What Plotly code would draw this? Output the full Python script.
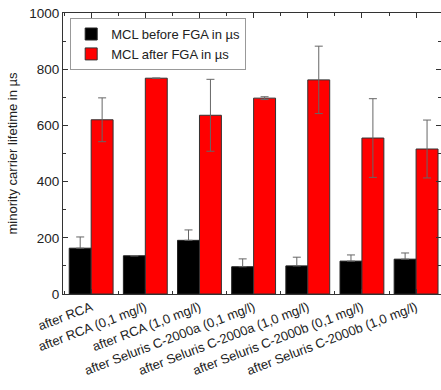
import plotly.graph_objects as go

categories = ["after RCA", "after RCA (0,1 mg/l)", "after RCA (1,0 mg/l)",
              "after Seluris C-2000a (0,1 mg/l)", "after Seluris C-2000a (1,0 mg/l)",
              "after Seluris C-2000b (0,1 mg/l)", "after Seluris C-2000b (1,0 mg/l)"]
before = [163, 136, 191, 97, 100, 117, 124]
before_err = [40, 0, 37, 28, 31, 22, 22]
after = [620, 768, 636, 697, 762, 555, 516]
after_err = [78, 0, 128, 5, 120, 140, 103]

x = list(range(len(categories)))
font = "Liberation Sans, Arial, sans-serif"

fig = go.Figure()
fig.add_trace(go.Bar(x=x, y=before, name="MCL before FGA in µs",
                     marker=dict(color="black", line=dict(color="#222", width=1)),
                     error_y=dict(type="data", array=before_err, arrayminus=[0] * len(before),
                                  symmetric=False, color="#666", thickness=1, width=4)))
fig.add_trace(go.Bar(x=x, y=after, name="MCL after FGA in µs",
                     marker=dict(color="#ff0000", line=dict(color="#333", width=1)),
                     error_y=dict(type="data", array=after_err, color="#666", thickness=1, width=4)))

fig.update_layout(
    width=441, height=390,
    margin=dict(l=63, r=0, t=13, b=96),
    paper_bgcolor="white", plot_bgcolor="white",
    barmode="group", bargap=0.19, bargroupgap=0,
    font=dict(family=font, size=12, color="#222"),
    showlegend=True,
    legend=dict(x=0.019, y=0.982, xanchor="left", yanchor="top",
                bordercolor="#999", borderwidth=1, bgcolor="white",
                font=dict(size=13), tracegroupgap=0, itemwidth=30),
)
fig.update_xaxes(
    range=[-0.52, 6.46], tickmode="array", tickvals=x, ticktext=categories,
    tickangle=-21, ticks="inside", ticklen=5, tickcolor="#333",
    showline=True, linecolor="#333", linewidth=1, mirror="ticks",
    showgrid=False, zeroline=False, tickfont=dict(size=13),
    minor=dict(tickmode="array", tickvals=[i + 0.5 for i in range(-1, 7)],
               ticks="inside", ticklen=3, tickcolor="#333"),
)
fig.update_yaxes(
    range=[0, 1000], tickmode="linear", tick0=0, dtick=200,
    ticks="inside", ticklen=5, tickcolor="#333",
    showline=True, linecolor="#333", linewidth=1, mirror="ticks",
    showgrid=False, zeroline=False, tickfont=dict(size=13.5),
    minor=dict(dtick=100, ticks="inside", ticklen=3, tickcolor="#333"),
    title=dict(text="minority carrier lifetime in µs", font=dict(size=13), standoff=8),
)

fig.write_html("out.html")
